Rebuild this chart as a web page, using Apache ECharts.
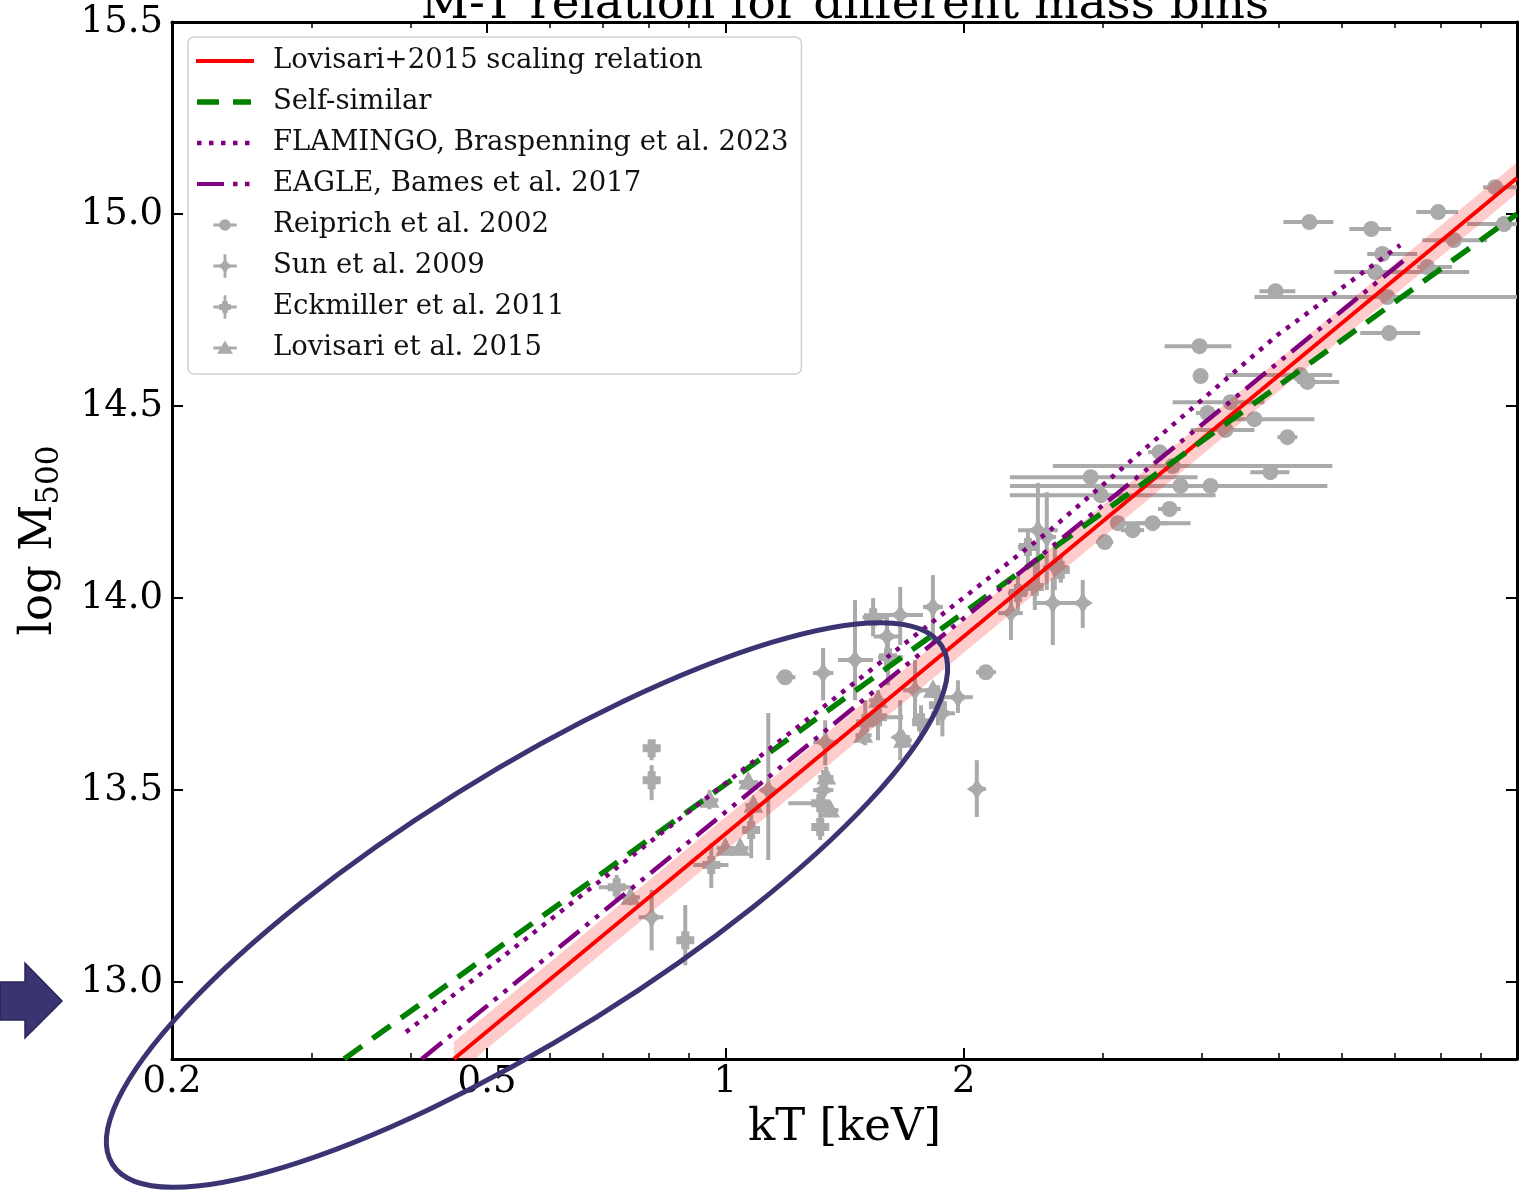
<!DOCTYPE html>
<html><head><meta charset="utf-8">
<script src="https://cdn.jsdelivr.net/npm/echarts@6/dist/echarts.min.js"></script>
<style>html,body{margin:0;padding:0;background:#fff}#c{width:1534px;height:1195px}</style>
</head><body><div id="c"></div>
<script>
// ---------- axes ----------
const xRange = [0.2, 10];
const yRange = [12.8, 15.5];
const xTickLabels = [0.2, 0.5, 1, 2];
const xMinorTicks = [0.3, 0.4, 0.6, 0.7, 0.8, 0.9, 3, 4, 5, 6, 7, 8, 9];
const yTickLabels = [13.0, 13.5, 14.0, 14.5, 15.0, 15.5];

// ---------- relations (kT [keV], log M500) ----------
const lovisariRelT = [0.454, 10];
const lovisariRelM = [12.8, 15.094];
const bandUpperT = [0.454, 10];
const bandUpperM = [12.845, 15.134];
const bandLowerT = [0.454, 10];
const bandLowerM = [12.755, 15.054];
const selfSimT = [0.330, 10];
const selfSimM = [12.8, 15.0];
const flamingoT = [0.395, 2.555, 4.982, 7.12];
const flamingoM = [12.870, 14.172, 14.685, 14.919];
const eagleT = [0.4136, 7.203];
const eagleM = [12.8, 14.880];

// ---------- Reiprich et al. 2002 ----------
const reiprichT   = [5.468, 6.545, 7.952, 9.382, 9.630, 8.329, 6.758, 4.953, 6.857, 3.972, 3.984, 6.896, 5.325, 5.436, 4.345, 4.065, 4.659, 4.283, 5.129, 3.536, 4.881, 2.894, 3.673, 3.758, 4.101, 2.980, 3.640, 3.131, 3.270, 3.465, 3.015, 1.190, 2.133, 6.621, 7.702];
const reiprichTLo = [5.069, 6.140, 7.459, 9.060, 8.650, 7.590, 6.469, 4.727, 4.659, 3.588, 3.900, 6.339, 4.283, 5.279, 3.673, 3.930, 4.283, 3.869, 4.982, 3.420, 4.605, 2.288, 2.592, 2.288, 3.892, 2.288, 3.520, 3.068, 3.160, 3.300, 2.940, 1.160, 2.073, 5.877, 7.481];
const reiprichTHi = [5.861, 6.936, 8.425, 10.30, 10.30, 9.167, 7.481, 5.248, 10.30, 4.357, 4.070, 7.547, 5.844, 5.963, 4.797, 4.200, 5.548, 4.659, 5.279, 3.650, 5.159, 3.949, 5.844, 5.760, 4.345, 4.162, 3.760, 3.869, 3.380, 3.620, 3.090, 1.226, 2.197, 8.700, 8.280];
const reiprichM   = [14.979, 14.961, 15.005, 15.070, 14.974, 14.932, 14.896, 14.799, 14.784, 14.656, 14.578, 14.690, 14.581, 14.563, 14.510, 14.482, 14.466, 14.438, 14.419, 14.380, 14.328, 14.315, 14.344, 14.292, 14.292, 14.268, 14.232, 14.195, 14.177, 14.195, 14.146, 13.794, 13.807, 14.849, 14.862];

// ---------- Sun et al. 2009 ----------
const sunT   = [2.482, 2.547, 2.607, 2.592, 2.828, 2.295, 1.458, 1.329, 1.663, 1.829, 1.736, 1.967, 1.663, 1.337, 2.078, 0.807, 1.133, 1.329, 1.880, 1.600];
const sunTLo = [2.342, 2.482, 2.518, 2.446, 2.747, 2.210, 1.388, 1.291, 1.537, 1.777, 1.677, 1.883, 1.629, 1.291, 2.037, 0.777, 1.107, 1.291, 1.820, 1.540];
const sunTHi = [2.630, 2.615, 2.707, 2.787, 2.886, 2.376, 1.537, 1.369, 1.777, 1.883, 1.803, 2.054, 1.711, 1.388, 2.133, 0.835, 1.160, 1.369, 1.950, 1.660];
const sunM   = [14.177, 14.159, 14.081, 13.987, 13.987, 13.961, 13.839, 13.805, 13.956, 13.977, 13.760, 13.742, 13.638, 13.625, 13.503, 13.169, 13.500, 13.500, 13.700, 13.900];
const sunMLo = [14.021, 14.021, 14.021, 13.878, 13.922, 13.891, 13.734, 13.734, 13.878, 13.878, 13.682, 13.701, 13.578, 13.565, 13.430, 13.083, 13.318, 13.448, 13.640, 13.840];
const sunMHi = [14.300, 14.276, 14.138, 14.052, 14.047, 14.021, 13.995, 13.870, 14.029, 14.060, 13.839, 13.786, 13.734, 13.682, 13.578, 13.240, 13.701, 13.552, 13.760, 13.960];

// ---------- Eckmiller et al. 2011 ----------
const eckT   = [2.653, 2.342, 2.411, 2.460, 1.605, 1.856, 1.559, 1.767, 0.807, 0.807, 0.890, 0.960, 0.729, 1.078, 1.318, 1.318, 1.502, 1.537];
const eckTLo = [2.600, 2.275, 2.342, 2.420, 1.559, 1.820, 1.493, 1.740, 0.788, 0.788, 0.872, 0.911, 0.692, 1.060, 1.201, 1.290, 1.470, 1.490];
const eckTHi = [2.710, 2.411, 2.482, 2.500, 1.677, 1.890, 1.677, 1.800, 0.828, 0.828, 0.911, 1.009, 0.759, 1.100, 1.349, 1.340, 1.530, 1.600];
const eckM   = [14.073, 14.013, 14.133, 14.029, 13.846, 13.721, 13.690, 13.677, 13.609, 13.526, 13.109, 13.305, 13.247, 13.396, 13.466, 13.404, 13.674, 13.950];
const eckMLo = [14.040, 13.964, 14.086, 13.969, 13.773, 13.669, 13.630, 13.630, 13.578, 13.474, 13.044, 13.245, 13.214, 13.323, 13.440, 13.370, 13.617, 13.900];
const eckMHi = [14.110, 14.060, 14.177, 14.086, 13.917, 13.773, 13.747, 13.721, 13.630, 13.565, 13.201, 13.362, 13.279, 13.448, 13.490, 13.443, 13.734, 14.000];

// ---------- Lovisari et al. 2015 ----------
const lovT   = [0.955, 1.069, 1.000, 1.044, 1.085, 1.356, 1.341, 0.759, 1.559, 1.677, 1.493, 1.829];
const lovTLo = [0.930, 1.040, 0.975, 1.020, 1.060, 1.320, 1.310, 0.740, 1.520, 1.640, 1.460, 1.790];
const lovTHi = [0.980, 1.100, 1.025, 1.070, 1.110, 1.390, 1.370, 0.780, 1.600, 1.720, 1.530, 1.870];
const lovM   = [13.474, 13.521, 13.349, 13.349, 13.461, 13.448, 13.534, 13.221, 13.734, 13.630, 13.643, 13.760];
const lovMLo = [13.450, 13.500, 13.330, 13.330, 13.440, 13.430, 13.510, 13.200, 13.710, 13.610, 13.620, 13.740];
const lovMHi = [13.500, 13.540, 13.370, 13.370, 13.480, 13.470, 13.560, 13.240, 13.760, 13.650, 13.670, 13.780];

// ---------- helpers ----------
const F = 'DejaVu Serif';
const GREY = '#aaaaaa';
const L = v => Math.log10(v);
const pts = (T, M) => T.map((t, i) => [L(t), M[i]]);
function items(T, TLo, THi, M, MLo, MHi) {
  return T.map((t, i) => [L(t), M[i], L(TLo[i]), L(THi[i]), MLo ? MLo[i] : M[i], MHi ? MHi[i] : M[i]]);
}
function marker(kind, c) {
  const x = c[0], y = c[1];
  if (kind === 'circle') return {type: 'circle', shape: {cx: x, cy: y, r: 8}, style: {fill: GREY}};
  let p;
  if (kind === 'star') p = [[x, y - 11], [x + 4, y - 4], [x + 10, y], [x + 4, y + 4], [x, y + 11], [x - 4, y + 4], [x - 10, y], [x - 4, y - 4]];
  else if (kind === 'plus') p = [[x - 4, y - 9], [x + 4, y - 9], [x + 4, y - 4], [x + 9, y - 4], [x + 9, y + 4], [x + 4, y + 4], [x + 4, y + 9], [x - 4, y + 9], [x - 4, y + 4], [x - 9, y + 4], [x - 9, y - 4], [x - 4, y - 4]];
  else p = [[x, y - 11], [x + 10, y + 7.5], [x - 10, y + 7.5]];
  return {type: 'polygon', shape: {points: p}, style: {fill: GREY}};
}
function errRender(kind) {
  return function (params, api) {
    const x = api.value(0), y = api.value(1);
    const c = api.coord([x, y]);
    const h1 = api.coord([api.value(2), y]), h2 = api.coord([api.value(3), y]);
    const v1 = api.coord([x, api.value(4)]), v2 = api.coord([x, api.value(5)]);
    const ls = {stroke: GREY, lineWidth: 4, fill: null};
    return {type: 'group', children: [
      {type: 'line', shape: {x1: h1[0], y1: h1[1], x2: h2[0], y2: h2[1]}, style: ls},
      {type: 'line', shape: {x1: v1[0], y1: v1[1], x2: v2[0], y2: v2[1]}, style: ls},
      marker(kind, c)
    ]};
  };
}
function fmtT(v) { return String(Math.round(Math.pow(10, v) * 10) / 10); }

// legend icons (grey markers: 40x30 box; lines: 58x25 box)
const PAD = 'M0,0H0.01V0.01H0Z M40,30H39.99V29.99H40Z ';
const HBAR = 'M6,13.3H34V16.7H6Z ';
const VBAR = 'M18.3,1H21.7V29H18.3Z ';
const iconReiprich = 'path://' + PAD + HBAR + 'M27,15A7,7,0,1,1,13,15A7,7,0,1,1,27,15Z';
const iconSun = 'path://' + PAD + HBAR + VBAR + 'M20,5L23.5,11.5L30,15L23.5,18.5L20,25L16.5,18.5L10,15L16.5,11.5Z';
const iconEck = 'path://' + PAD + HBAR + VBAR + 'M16.5,8H23.5V11.5H27V18.5H23.5V22H16.5V18.5H13V11.5H16.5Z';
const iconLov = 'path://' + PAD + HBAR + 'M20,6L29.5,22L10.5,22Z';
const LPAD = 'M0,0H0.01V0.01H0Z M58,25H57.99V24.99H58Z ';
const iconRed = 'path://' + LPAD + 'M0,10.5H58V14.5H0Z';
const iconGreen = 'path://' + LPAD + 'M1,9.75H23V15.25H1Z M37,9.75H55V15.25H37Z';
const iconDot = 'path://' + LPAD + 'M1,10.25H5.5V14.75H1Z M13,10.25H17.5V14.75H13Z M25,10.25H29.5V14.75H25Z M37,10.25H41.5V14.75H37Z M49,10.25H53.5V14.75H49Z';
const iconDashDot = 'path://' + LPAD + 'M1,10.5H28V14.5H1Z M37,10.25H41.5V14.75H37Z M49,10.25H53.5V14.75H49Z';

const axisLineStyle = {color: '#000', width: 3};
function xAx(pos, major, showLabel) {
  const a = {
    type: 'value', position: pos, min: L(xRange[0]), max: L(xRange[1]),
    axisLine: {show: major, onZero: false, lineStyle: axisLineStyle},
    axisTick: {show: true, inside: true, length: major ? 11 : 6, lineStyle: {color: '#000', width: major ? 2 : 1.5},
      customValues: (major ? xTickLabels : xMinorTicks).map(L)},
    axisLabel: {show: showLabel, customValues: xTickLabels.map(L), formatter: fmtT, fontSize: 37, fontFamily: F, color: '#000', margin: 5},
    splitLine: {show: false}
  };
  if (showLabel) {
    a.name = 'kT [keV]'; a.nameLocation = 'middle'; a.nameGap = 46;
    a.nameTextStyle = {fontSize: 45, fontFamily: F, color: '#000'};
  }
  return a;
}
function yAx(pos, showLabel) {
  const a = {
    type: 'value', position: pos, min: yRange[0], max: yRange[1],
    axisLine: {show: true, onZero: false, lineStyle: axisLineStyle},
    axisTick: {show: true, inside: true, length: 11, lineStyle: {color: '#000', width: 2}, customValues: yTickLabels},
    axisLabel: {show: showLabel, customValues: yTickLabels, formatter: v => v.toFixed(1), fontSize: 37, fontFamily: F, color: '#000', margin: 9},
    splitLine: {show: false}
  };
  if (showLabel) {
    a.name = '{a|log M}{b|500}'; a.nameLocation = 'middle'; a.nameGap = 107;
    a.nameTextStyle = {color: '#000', rich: {
      a: {fontSize: 45, fontFamily: F, color: '#000'},
      b: {fontSize: 31, fontFamily: F, color: '#000', padding: [20, 0, 0, 0]}
    }};
  }
  return a;
}

const chart = echarts.init(document.getElementById('c'), null, {renderer: 'canvas'});
chart.setOption({
  animation: false,
  backgroundColor: '#fff',
  grid: {left: 172, right: 17, top: 22, bottom: 136, containLabel: false},
  xAxis: [xAx('bottom', true, true), xAx('bottom', false, false), xAx('top', true, false), xAx('top', false, false)],
  yAxis: [yAx('left', true), yAx('right', false)],
  legend: {
    orient: 'vertical', left: 188, top: 37, padding: [10, 13, 12, 8],
    itemWidth: 58, itemHeight: 25, itemGap: 13.0,
    backgroundColor: 'rgba(255,255,255,0.85)', borderColor: '#d0d0d0', borderWidth: 1.5, borderRadius: 6,
    selectedMode: false,
    textStyle: {fontFamily: F, fontSize: 27.5, color: '#111', padding: [0, 0, 0, 14]},
    data: [
      {name: 'Lovisari+2015 scaling relation', icon: iconRed, itemStyle: {color: '#ff0000'}},
      {name: 'Self-similar', icon: iconGreen, itemStyle: {color: '#008000'}},
      {name: 'FLAMINGO, Braspenning et al. 2023', icon: iconDot, itemStyle: {color: '#800080'}},
      {name: 'EAGLE, Bames et al. 2017', icon: iconDashDot, itemStyle: {color: '#800080'}},
      {name: 'Reiprich et al. 2002', icon: iconReiprich, itemStyle: {color: GREY}},
      {name: 'Sun et al. 2009', icon: iconSun, itemStyle: {color: GREY}},
      {name: 'Eckmiller et al. 2011', icon: iconEck, itemStyle: {color: GREY}},
      {name: 'Lovisari et al. 2015', icon: iconLov, itemStyle: {color: GREY}}
    ]
  },
  graphic: [
    {type: 'text', x: 845, y: 29, z: 50, style: {text: 'M-T relation for different mass bins', font: '47px "DejaVu Serif"', fill: '#000', align: 'center', verticalAlign: 'bottom', textAlign: 'center', textVerticalAlign: 'bottom'}},
    {type: 'ellipse', x: 527, y: 905, rotation: 32 * Math.PI / 180, z: 100, silent: true,
      shape: {cx: 0, cy: 0, rx: 489, ry: 132}, style: {fill: null, stroke: '#3b3472', lineWidth: 5}},
    {type: 'polygon', z: 100, silent: true,
      shape: {points: [[0, 982], [25, 982], [25, 963], [62, 1001], [25, 1038], [25, 1020], [0, 1020]]},
      style: {fill: '#3b3472', stroke: '#2a2458', lineWidth: 1.5}}
  ],
  series: [
    {name: 'Reiprich et al. 2002', type: 'custom', clip: true, z: 2, itemStyle: {color: GREY}, encode: {x: 0, y: 1},
      renderItem: errRender('circle'), data: items(reiprichT, reiprichTLo, reiprichTHi, reiprichM)},
    {name: 'Sun et al. 2009', type: 'custom', clip: true, z: 2, itemStyle: {color: GREY}, encode: {x: 0, y: 1},
      renderItem: errRender('star'), data: items(sunT, sunTLo, sunTHi, sunM, sunMLo, sunMHi)},
    {name: 'Eckmiller et al. 2011', type: 'custom', clip: true, z: 2, itemStyle: {color: GREY}, encode: {x: 0, y: 1},
      renderItem: errRender('plus'), data: items(eckT, eckTLo, eckTHi, eckM, eckMLo, eckMHi)},
    {name: 'Lovisari et al. 2015', type: 'custom', clip: true, z: 2, itemStyle: {color: GREY}, encode: {x: 0, y: 1},
      renderItem: errRender('triangle'), data: items(lovT, lovTLo, lovTHi, lovM, lovMLo, lovMHi)},
    {type: 'custom', clip: true, z: 3, silent: true, data: [[0, 14]], encode: {x: 0, y: 1},
      renderItem: function (params, api) {
        const p = [];
        bandUpperT.forEach((t, i) => p.push(api.coord([L(t), bandUpperM[i]])));
        for (let i = bandLowerT.length - 1; i >= 0; i--) p.push(api.coord([L(bandLowerT[i]), bandLowerM[i]]));
        return {type: 'polygon', shape: {points: p}, style: {fill: 'rgba(255,0,0,0.2)'}};
      }},
    {name: 'Lovisari+2015 scaling relation', type: 'line', z: 4, symbol: 'none', showSymbol: false, clip: true,
      itemStyle: {color: '#ff0000'}, lineStyle: {color: '#ff0000', width: 4}, data: pts(lovisariRelT, lovisariRelM)},
    {name: 'Self-similar', type: 'line', z: 4, symbol: 'none', showSymbol: false, clip: true,
      itemStyle: {color: '#008000'}, lineStyle: {color: '#008000', width: 5.5, type: [22, 13]}, data: pts(selfSimT, selfSimM)},
    {name: 'FLAMINGO, Braspenning et al. 2023', type: 'line', z: 4, symbol: 'none', showSymbol: false, clip: true,
      itemStyle: {color: '#800080'}, lineStyle: {color: '#800080', width: 4.5, type: [4.5, 7]}, data: pts(flamingoT, flamingoM)},
    {name: 'EAGLE, Bames et al. 2017', type: 'line', z: 4, symbol: 'none', showSymbol: false, clip: true,
      itemStyle: {color: '#800080'}, lineStyle: {color: '#800080', width: 4.5, type: [26, 8, 4.5, 8, 4.5, 8]}, data: pts(eagleT, eagleM)}
  ]
});
</script>
</body></html>
